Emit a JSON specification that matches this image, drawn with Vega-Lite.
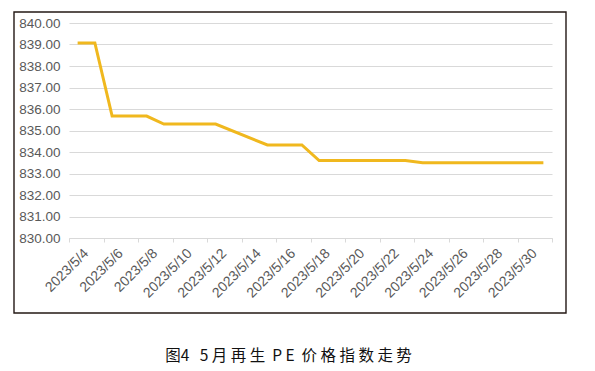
{
  "$schema": "https://vega.github.io/schema/vega-lite/v6.json",
  "width": 483,
  "height": 215,
  "autosize": {"type": "none"},
  "padding": {"left": 69, "top": 23, "right": 43, "bottom": 133},
  "background": "white",
  "title": {
    "text": "图4\u00a0\u00a0\u00a05\u00a0月\u00a0再\u00a0生\u00a0\u00a0P\u00a0E\u00a0\u00a0价\u00a0格\u00a0指\u00a0数\u00a0走\u00a0势",
    "orient": "bottom",
    "anchor": "middle",
    "offset": 35,
    "dx": -22,
    "font": "Noto Sans CJK SC",
    "fontSize": 15.5,
    "fontWeight": "normal",
    "color": "#111111"
  },
  "config": {
    "view": {"stroke": null},
    "axis": {"labelFont": "Liberation Sans", "labelFontSize": 13.5, "labelColor": "#595959"}
  },
  "layer": [
    {
      "data": {"values": [{}]},
      "mark": {"type": "rect", "fill": "transparent", "stroke": "#231815", "strokeWidth": 1.4},
      "encoding": {
        "x": {"value": -55},
        "x2": {"value": 497},
        "y": {"value": -11},
        "y2": {"value": 290}
      }
    },
    {
      "data": {
        "values": [
          {"date": "2023-05-04T12:00:00", "price": 839.07},
          {"date": "2023-05-05T12:00:00", "price": 839.07},
          {"date": "2023-05-06T12:00:00", "price": 835.67},
          {"date": "2023-05-08T12:00:00", "price": 835.67},
          {"date": "2023-05-09T12:00:00", "price": 835.3},
          {"date": "2023-05-10T12:00:00", "price": 835.3},
          {"date": "2023-05-11T12:00:00", "price": 835.3},
          {"date": "2023-05-12T12:00:00", "price": 835.3},
          {"date": "2023-05-15T12:00:00", "price": 834.33},
          {"date": "2023-05-16T12:00:00", "price": 834.33},
          {"date": "2023-05-17T12:00:00", "price": 834.33},
          {"date": "2023-05-18T12:00:00", "price": 833.6},
          {"date": "2023-05-19T12:00:00", "price": 833.6},
          {"date": "2023-05-22T12:00:00", "price": 833.6},
          {"date": "2023-05-23T12:00:00", "price": 833.6},
          {"date": "2023-05-24T12:00:00", "price": 833.5},
          {"date": "2023-05-25T12:00:00", "price": 833.5},
          {"date": "2023-05-26T12:00:00", "price": 833.5},
          {"date": "2023-05-29T12:00:00", "price": 833.5},
          {"date": "2023-05-30T12:00:00", "price": 833.5},
          {"date": "2023-05-31T12:00:00", "price": 833.5}
        ]
      },
      "mark": {"type": "line", "color": "#f0b81e", "strokeWidth": 3},
      "encoding": {
        "x": {
          "field": "date",
          "type": "temporal",
          "scale": {
            "domain": [
              {"year": 2023, "month": 5, "date": 4},
              {"year": 2023, "month": 6, "date": 1}
            ]
          },
          "axis": {
            "title": null,
            "values": [
              {"year": 2023, "month": 5, "date": 4},
              {"year": 2023, "month": 5, "date": 6},
              {"year": 2023, "month": 5, "date": 8},
              {"year": 2023, "month": 5, "date": 10},
              {"year": 2023, "month": 5, "date": 12},
              {"year": 2023, "month": 5, "date": 14},
              {"year": 2023, "month": 5, "date": 16},
              {"year": 2023, "month": 5, "date": 18},
              {"year": 2023, "month": 5, "date": 20},
              {"year": 2023, "month": 5, "date": 22},
              {"year": 2023, "month": 5, "date": 24},
              {"year": 2023, "month": 5, "date": 26},
              {"year": 2023, "month": 5, "date": 28},
              {"year": 2023, "month": 5, "date": 30},
              {"year": 2023, "month": 6, "date": 1}
            ],
            "format": "%Y/%-m/%-d",
            "formatType": "time",
            "labelExpr": "datum.label == '2023/6/1' ? '' : datum.label",
            "labelAngle": -45,
            "labelAlign": "right",
            "labelBaseline": "middle",
            "labelOffset": 17,
            "labelPadding": 9,
            "labelFontSize": 14,
            "labelOverlap": false,
            "labelBound": false,
            "grid": false,
            "domainColor": "#d9d9d9",
            "tickColor": "#d9d9d9",
            "tickSize": 4
          }
        },
        "y": {
          "field": "price",
          "type": "quantitative",
          "scale": {"domain": [830, 840], "zero": false, "nice": false},
          "axis": {
            "title": null,
            "values": [830, 831, 832, 833, 834, 835, 836, 837, 838, 839, 840],
            "format": ".2f",
            "ticks": false,
            "domain": false,
            "gridColor": "#d9d9d9",
            "labelPadding": 9
          }
        }
      }
    }
  ]
}
